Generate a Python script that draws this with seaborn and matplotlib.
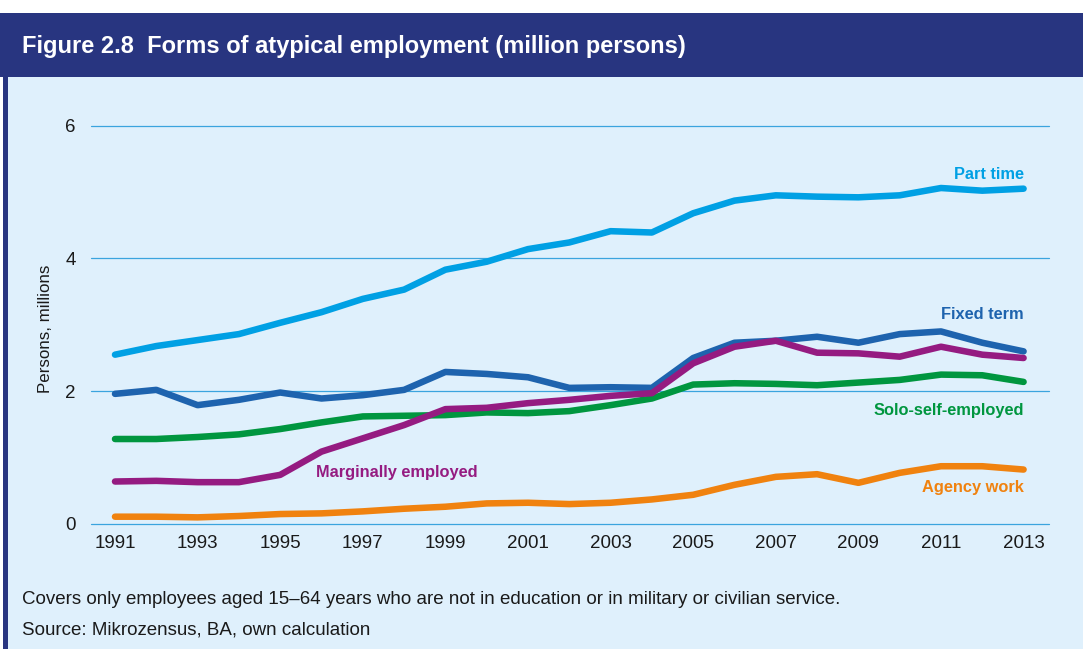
import matplotlib
matplotlib.use("Agg")
import matplotlib.pyplot as plt
from matplotlib.patches import Rectangle
import pandas as pd
import seaborn as sns

# Atypical employment in Germany, million persons
years = list(range(1991, 2014))
part_time = [2.55, 2.68, 2.77, 2.86, 3.03, 3.19, 3.39, 3.53, 3.83, 3.95, 4.14, 4.24,
             4.41, 4.39, 4.68, 4.87, 4.95, 4.93, 4.92, 4.95, 5.06, 5.02, 5.05]
fixed_term = [1.96, 2.02, 1.79, 1.87, 1.98, 1.89, 1.94, 2.02, 2.29, 2.26, 2.21, 2.05,
              2.06, 2.05, 2.50, 2.73, 2.76, 2.82, 2.73, 2.86, 2.90, 2.73, 2.60]
solo_self = [1.28, 1.28, 1.31, 1.35, 1.43, 1.53, 1.62, 1.63, 1.64, 1.68, 1.67, 1.70,
             1.79, 1.89, 2.10, 2.12, 2.11, 2.09, 2.13, 2.17, 2.25, 2.24, 2.14]
marginal = [0.64, 0.65, 0.63, 0.63, 0.74, 1.09, 1.29, 1.49, 1.73, 1.75, 1.82, 1.87,
            1.93, 1.97, 2.42, 2.67, 2.76, 2.58, 2.57, 2.52, 2.67, 2.55, 2.50]
agency = [0.11, 0.11, 0.10, 0.12, 0.15, 0.16, 0.19, 0.23, 0.26, 0.31, 0.32, 0.30,
          0.32, 0.37, 0.44, 0.59, 0.71, 0.75, 0.62, 0.77, 0.87, 0.87, 0.82]

series_names = ["Part time", "Fixed term", "Solo-self-employed",
                "Marginally employed", "Agency work"]
series_values = [part_time, fixed_term, solo_self, marginal, agency]
series_colors = ["#00A0E4", "#1E63AE", "#00963F", "#951B81", "#F0820F"]

y_ticks = [0, 2, 4, 6]
x_ticks = list(range(1991, 2014, 2))

df = pd.DataFrame({
    "year": [y for _ in series_names for y in years],
    "value": [v for vals in series_values for v in vals],
    "series": [n for n, vals in zip(series_names, series_values) for _ in vals],
})

sns.set_theme(style="white")
plt.rcParams["font.family"] = ["Liberation Sans", "DejaVu Sans"]

W, H = 1083, 649
fig = plt.figure(figsize=(W / 100, H / 100), dpi=100, facecolor="white")

navy = "#283580"
panel = "#DFF0FC"


def px_rect(x0, y0, x1, y1, color):
    fig.patches.append(Rectangle((x0 / W, 1 - y1 / H), (x1 - x0) / W, (y1 - y0) / H,
                                 transform=fig.transFigure, facecolor=color,
                                 edgecolor="none", zorder=-10))


px_rect(8, 77, W, H, panel)
px_rect(0, 13, W, 77, navy)
px_rect(3, 13, 8, H, navy)

fig.text(22 / W, 1 - 47 / H, "Figure 2.8  Forms of atypical employment (million persons)",
         color="white", fontsize=17, fontweight="bold", va="center", ha="left")
fig.text(22 / W, 1 - 600 / H,
         "Covers only employees aged 15\u201364 years who are not in education or in military or civilian service.",
         color="#1A1A1A", fontsize=13.5, va="center", ha="left")
fig.text(22 / W, 1 - 630 / H, "Source: Mikrozensus, BA, own calculation",
         color="#1A1A1A", fontsize=13.5, va="center", ha="left")

# axes spans the plotting region; 0 sits on the bottom edge
ax_l, ax_r, ax_b, ax_t = 91, 1049, 524, 100
ax = fig.add_axes([ax_l / W, 1 - ax_b / H, (ax_r - ax_l) / W, (ax_b - ax_t) / H])
ax.set_facecolor("none")

sns.lineplot(data=df, x="year", y="value", hue="series", hue_order=series_names,
             palette=series_colors, linewidth=4.7, ax=ax, legend=False,
             solid_capstyle="round", solid_joinstyle="round", zorder=3)

px_per_unit = 66.4
ax.set_ylim(0, (ax_b - ax_t) / px_per_unit)
px_per_year = 41.3
ax.set_xlim(1991 - (115 - ax_l) / px_per_year, 1991 + (ax_r - 115) / px_per_year)

ax.set_yticks(y_ticks)
ax.set_xticks(x_ticks)
ax.set_xticklabels([str(x) for x in x_ticks])
for s in ax.spines.values():
    s.set_visible(False)
for yv in y_ticks:
    ax.axhline(yv, color="#3BA4DE", linewidth=0.9, zorder=1, clip_on=False)
ax.tick_params(axis="both", length=0, labelsize=13.5, colors="#1A1A1A")
ax.tick_params(axis="y", pad=11)
ax.tick_params(axis="x", pad=8)
ax.set_xlabel("")
ax.set_ylabel("Persons, millions", fontsize=12.2, color="#1A1A1A")
ax.yaxis.set_label_coords((53 - ax_l) / (ax_r - ax_l), (ax_b - 329) / (ax_b - ax_t))

# direct labels on the series
label_pos = {
    "Part time": (2013, 5.27, "right"),
    "Fixed term": (2013, 3.16, "right"),
    "Solo-self-employed": (2013, 1.71, "right"),
    "Agency work": (2013, 0.55, "right"),
    "Marginally employed": (1995.87, 0.78, "left"),
}
for name, color in zip(series_names, series_colors):
    x, y, ha = label_pos[name]
    ax.text(x, y, name, color=color, fontsize=11.8, fontweight="bold",
            ha=ha, va="center", zorder=4)

fig.savefig("out.png", dpi=100, facecolor="white")
